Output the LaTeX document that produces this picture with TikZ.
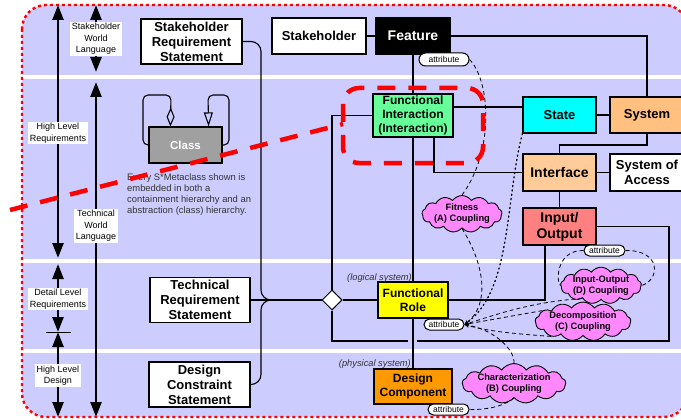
\documentclass[tikz,border=0pt]{standalone}
\usepackage{fontspec}
\setmainfont{Liberation Sans}
\usetikzlibrary{arrows.meta,shapes.geometric,shapes.symbols,calc}
\definecolor{lav}{HTML}{CCCCFF}
\definecolor{figreen}{HTML}{66FF99}
\definecolor{cyn}{HTML}{00FFFF}
\definecolor{ylw}{HTML}{FFFF00}
\definecolor{syscol}{HTML}{FFC080}
\definecolor{ifcol}{HTML}{FFCC99}
\definecolor{iocol}{HTML}{FF8080}
\definecolor{dccol}{HTML}{FF9900}
\definecolor{clcol}{HTML}{A0A0A0}
\definecolor{cloudc}{HTML}{FF88FF}
\definecolor{txtgray}{HTML}{333333}
\definecolor{rd}{HTML}{FF0000}
\begin{document}
\begin{tikzpicture}[x=1pt,y=-1pt,
  box/.style={draw, line width=1.2pt, align=center, inner sep=0pt, font=\bfseries},
  fbig/.style={font=\bfseries\fontsize{13}{15}\selectfont},
  fmid/.style={font=\bfseries\fontsize{12}{14}\selectfont},
  flarge/.style={font=\bfseries\fontsize{14}{16}\selectfont},
  conn/.style={line width=1.1pt},
  dline/.style={line width=0.8pt, dash pattern=on 4pt off 3pt},
  dotline/.style={line width=1.3pt, dash pattern=on 1.2pt off 3.2pt, line cap=round},
  pill/.style={draw, fill=white, rounded corners=5.5pt, line width=1pt, inner sep=0pt, minimum height=11pt, font=\fontsize{8.5}{10}\selectfont},
  cloudn/.style={cloud, cloud puffs=13, cloud puff arc=110, cloud ignores aspect, draw, fill=cloudc, line width=0.9pt, inner sep=0pt, align=center, font=\bfseries\fontsize{9.3}{11}\selectfont},
  lbl/.style={fill=white, inner sep=1.5pt, align=center, font=\fontsize{9}{11.5}\selectfont},
  bigarr/.style={line width=2.6pt, {Triangle[length=15pt,width=11pt]}-{Triangle[length=15pt,width=11pt]}},
  reddash/.style={rd, line width=4.5pt, dash pattern=on 18pt off 13pt},
  tip/.style={-{Stealth[length=4.5pt,width=4pt]}}
]
\path[use as bounding box] (0,0) rectangle (681,420);
\clip (0,0) rectangle (681,420);

% background
\fill[lav, rounded corners=24pt] (22,5) rectangle (688,417);
\fill[white] (22,75.5) rectangle (681,79.5);
\fill[white] (22,258.5) rectangle (681,262.5);
\fill[white] (22,349) rectangle (681,353);
\draw[rd, line width=2.4pt, dash pattern=on 3pt off 3pt, rounded corners=24pt] (22,5) rectangle (688,417);

% left scale arrows
\coordinate (a1t) at (58,5);
\coordinate (a1b) at (58,258);
\coordinate (a2t) at (58,264);
\coordinate (a2b) at (58,332);
\coordinate (a3t) at (58,332);
\coordinate (a3b) at (58,417);
\coordinate (b1t) at (96,5);
\coordinate (b1b) at (96,72);
\coordinate (b2t) at (96,82);
\coordinate (b2b) at (96,417);
\coordinate (tkl) at (46,332);
\coordinate (tkr) at (71,332);
\draw[bigarr] (a1t) -- (a1b);
\draw[bigarr] (a2t) -- (a2b);
\draw[bigarr] (a3t) -- (a3b);
\draw[bigarr] (b1t) -- (b1b);
\draw[bigarr] (b2t) -- (b2b);
\draw[line width=1pt] (tkl) -- (tkr);
\node[lbl] (l1) at (96,39) {Stakeholder\\World\\Language};
\node[lbl] (l2) at (58,133) {High Level\\Requirements};
\node[lbl] (l3) at (96,226) {Technical\\World\\Language};
\node[lbl] (l4) at (58,299) {Detail Level\\Requirements};
\node[lbl] (l5) at (58,375.5) {High Level\\Design};

% nodes
\node[box, fbig, fill=white, minimum width=101pt, minimum height=45pt] (srs) at (191.5,41.5) {Stakeholder\\Requirement\\Statement};
\node[box, fbig, fill=white, minimum width=94pt, minimum height=36pt] (stk) at (319,36) {Stakeholder};
\node[box, flarge, fill=black, text=white, minimum width=74pt, minimum height=36pt] (feat) at (413,36) {Feature};
\node[box, fmid, fill=figreen, minimum width=80pt, minimum height=43pt] (fi) at (413,115.5) {Functional\\Interaction\\(Interaction)};
\node[box, fbig, fill=cyn, minimum width=73pt, minimum height=36pt] (state) at (559.5,115) {State};
\node[box, fbig, fill=syscol, minimum width=74pt, minimum height=36pt] (sys) at (647,115) {System};
\node[box, flarge, fill=ifcol, minimum width=73pt, minimum height=37pt] (intf) at (559.5,172.5) {Interface};
\node[box, fbig, fill=white, minimum width=74pt, minimum height=37pt] (soa) at (647,172.5) {System of\\Access};
\node[box, flarge, fill=iocol, minimum width=73pt, minimum height=37pt] (io) at (559.5,226.5) {Input/\\Output};
\node[box, fmid, fill=ylw, minimum width=70pt, minimum height=36pt] (fr) at (413,300) {Functional\\Role};
\node[box, fmid, fill=dccol, minimum width=78pt, minimum height=35pt] (dc) at (413,386.5) {Design\\Component};
\node[box, fbig, fill=white, minimum width=100pt, minimum height=45pt] (trs) at (200,300) {Technical\\Requirement\\Statement};
\node[box, fbig, fill=white, minimum width=101pt, minimum height=45pt] (dcs) at (199.5,384.5) {Design\\Constraint\\Statement};
\node[box, fill=clcol, text=white, font=\bfseries\fontsize{11.5}{13}\selectfont, minimum width=73pt, minimum height=36pt] (cls) at (185.5,145) {Class};
\node[diamond, draw, fill=white, line width=1pt, minimum width=20pt, minimum height=20pt, inner sep=0pt] (dia) at (332,300) {};

\node[anchor=north west, align=left, inner sep=0pt, font=\fontsize{9.4}{11.3}\selectfont, text=txtgray] (note) at (127,173) {Every S*Metaclass shown is\\embedded in both a\\containment hierarchy and an\\abstraction (class) hierarchy.};

\node[anchor=east, inner sep=0pt, font=\itshape\fontsize{9.3}{11}\selectfont, text=txtgray] (logi) at (412,278) {(logical system)};
\node[anchor=east, inner sep=0pt, font=\itshape\fontsize{9.3}{11}\selectfont, text=txtgray] (phys) at (411,364) {(physical system)};

% pills
\node[pill, minimum width=50pt, minimum height=13pt, rounded corners=6.5pt] (attrF) at (444,59.5) {attribute};
\node[pill, minimum width=41pt] (attrIO) at (604.5,250.5) {attribute};
\node[pill, minimum width=40pt] (attrFR) at (444,324.5) {attribute};
\node[pill, minimum width=41pt] (attrDC) at (448.5,409.5) {attribute};

% clouds
\node[cloudn, minimum width=69pt, minimum height=31pt] (fit) at (462,214) {Fitness\\(A) Coupling};
\node[cloudn, minimum width=68pt, minimum height=28pt] (ioc) at (601,285.5) {Input-Output\\(D) Coupling};
\node[cloudn, minimum width=80pt, minimum height=31pt] (dec) at (583,321.5) {Decomposition\\(C) Coupling};
\node[cloudn, minimum width=88pt, minimum height=30pt] (chc) at (514,383.5) {Characterization\\(B) Coupling};

% connectors
\coordinate (j) at (261,300);
\coordinate (c1) at (669,341);
\draw[conn, rounded corners=10pt] (srs.east) -| (j) -- (dia.west);
\draw[conn, rounded corners=10pt] (dcs.east) -| (j) -- (dia.west);
\draw[conn] (trs.east) -- (dia.west);
\draw[conn] (dia.east) -- (fr.west);
\draw[conn] (dia.north) |- (fi.west);
\draw[conn] (dia.south) |- (c1) |- (io.east);
\draw[lav, line width=3pt] (407.5,341) -- (416.5,341);
\draw[conn] (stk.east) -- (feat.west);
\draw[conn] (feat.south) -- (fi.north);
\draw[conn] (fi.south) -- (fr.north);
\draw[conn] (fr.south) -- (dc.north);
\draw[conn] (feat.east) -| (sys.north);
\draw[conn] (fi.east |- 0,107) -- (state.west |- 0,107);
\draw[conn] (state.east) -- (sys.west);
\draw[conn] (fi.south -| 434,0) |- (intf.west);
\draw[conn] (sys.south) -- (sys.south |- 0,145) -| (intf.north);
\draw[conn] (intf.east) -- (soa.west);
\draw[conn] (intf.south) -- (io.north);
\draw[conn] (io.south -| 545,0) |- (fr.east);

% class loops
\draw[conn, rounded corners=5pt, -{Diamond[open,length=19pt,width=8pt]}] (cls.west) -- (143,145) -- (143,95) -- (171,95) -- ($(cls.north west)+(22,0)$);
\draw[conn, rounded corners=5pt, -{Triangle[open,length=14pt,width=9pt]}] (cls.east) -- (229,145) -- (229,95) -- (208,95) -- ($(cls.north east)+(-14,0)$);

% dashed couplings
\draw[dline] (attrF.east) .. controls (490,80) and (495,150) .. (fit.north);
\draw[dline, tip] (fit.south) .. controls (485,265) and (490,305) .. (attrFR.east);
\draw[dotline, tip] (state.south west) .. controls (505,200) and (512,290) .. (attrFR.east);
\draw[dline, tip] (ioc.215) .. controls (530,302) and (495,315) .. (attrFR.east);
\draw[dline, tip] (dec.165) -- (attrFR.east);
\draw[dline, tip] (dec.205) .. controls (520,334) and (490,332) .. (attrFR.east);
\draw[dline, tip] (chc.north) .. controls (515,350) and (495,330) .. (attrFR.east);
\draw[dline] (chc.south) .. controls (505,405) and (490,410) .. (attrDC.east);
\draw[dline] (attrIO.west) .. controls (556,250) and (556,282) .. (ioc.west);
\draw[dline] (attrIO.east) .. controls (662,250) and (660,280) .. (ioc.east);

% red dashed boundary
\coordinate (rd1) at (10,210);
\coordinate (rd2) at (343,124);
\draw[reddash] (rd1) -- (rd2);
\draw[reddash, rounded corners=16pt] (343,88) rectangle (483,163);
\end{tikzpicture}
\end{document}
